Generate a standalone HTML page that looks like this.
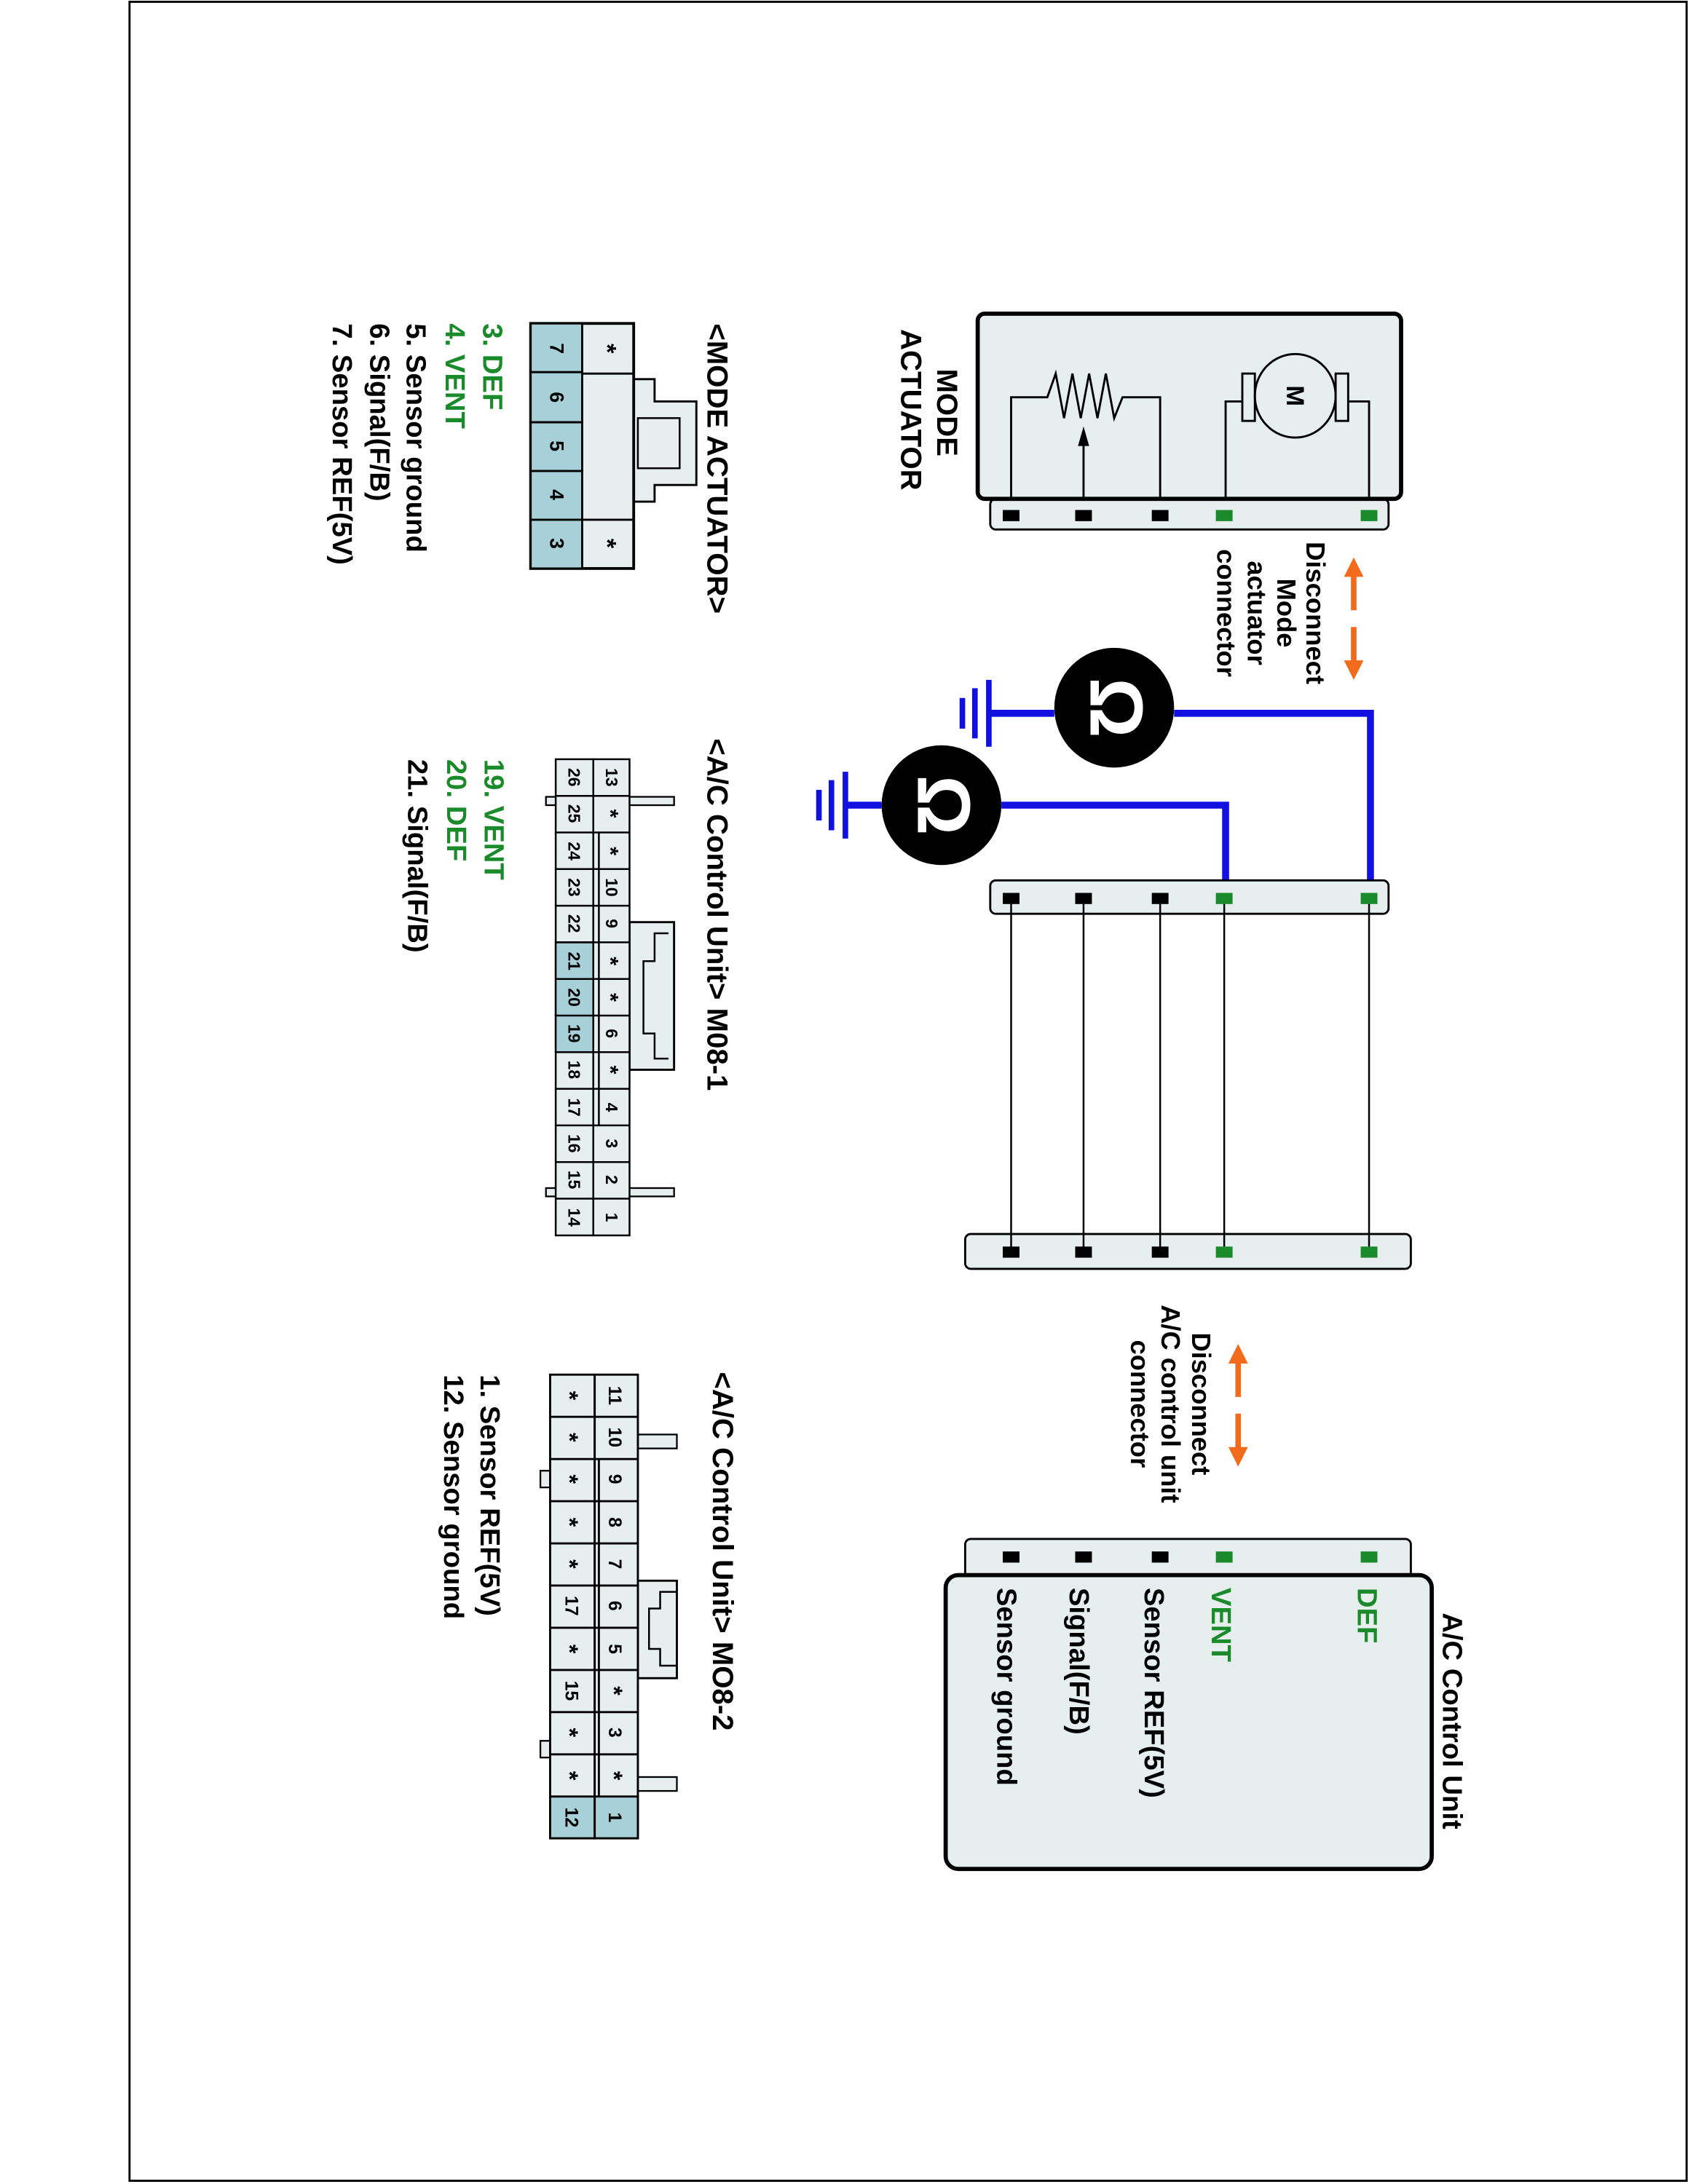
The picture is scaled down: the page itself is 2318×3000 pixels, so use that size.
<!DOCTYPE html>
<html><head><meta charset="utf-8"><style>
html,body{margin:0;padding:0;background:#fff;}
svg{display:block;}
text{font-family:"Liberation Sans",Arial,sans-serif;font-weight:bold;}
</style></head><body>
<svg width="2318" height="3000" viewBox="0 0 1212 1568" xmlns="http://www.w3.org/2000/svg">
<rect x="93" y="1" width="1118" height="1565" fill="none" stroke="#000" stroke-width="1.5"/>

<!-- MODE ACTUATOR box -->
<rect x="711" y="358" width="286" height="22" rx="4" fill="#e6eeee" stroke="#000" stroke-width="1.5"/>
<rect x="702" y="225" width="304" height="133" rx="5" fill="#e6eeee" stroke="#000" stroke-width="3"/>
<!-- motor -->
<ellipse cx="930" cy="284" rx="29" ry="30" fill="none" stroke="#000" stroke-width="1.5"/>
<rect x="892" y="268" width="9" height="34" fill="none" stroke="#000" stroke-width="1.5"/>
<rect x="959" y="268" width="9" height="34" fill="none" stroke="#000" stroke-width="1.5"/>
<polyline points="892,288 880,288 880,358" fill="none" stroke="#000" stroke-width="1.5"/>
<polyline points="968,288 983,288 983,358" fill="none" stroke="#000" stroke-width="1.5"/>
<text transform="translate(924,284) rotate(90)" text-anchor="middle" font-size="18">M</text>
<!-- resistor -->
<polyline points="726,358 726,285 752,285 758,268 764,300 770,268 776,300 782,268 788,300 794,268 800,300 806,285 833,285 833,358" fill="none" stroke="#000" stroke-width="1.5"/>
<line x1="778" y1="358" x2="778" y2="318" stroke="#000" stroke-width="1.5"/>
<polygon points="778,306 774,320 782,320" fill="#000"/>
<!-- pins -->
<g>
<rect x="720" y="366" width="12" height="8" fill="#000"/><rect x="772" y="366" width="12" height="8" fill="#000"/><rect x="827" y="366" width="12" height="8" fill="#000"/><rect x="873" y="366" width="12" height="8" fill="#1a8a2a"/><rect x="977" y="366" width="12" height="8" fill="#1a8a2a"/>
</g>
<text transform="translate(673,296) rotate(90)" text-anchor="middle" font-size="21">MODE</text>
<text transform="translate(647,294) rotate(90)" text-anchor="middle" font-size="21">ACTUATOR</text>

<!-- disconnect 1 -->
<text transform="translate(938,440) rotate(90)" text-anchor="middle" font-size="19">Disconnect</text>
<text transform="translate(917,440) rotate(90)" text-anchor="middle" font-size="19">Mode</text>
<text transform="translate(896,440) rotate(90)" text-anchor="middle" font-size="19">actuator</text>
<text transform="translate(874,440) rotate(90)" text-anchor="middle" font-size="19">connector</text>
<g stroke="#f26a1b" stroke-width="4" fill="#f26a1b">
<line x1="972" y1="412" x2="972" y2="438"/><line x1="972" y1="450" x2="972" y2="476"/>
</g>
<polygon points="972,400 965,414 979,414" fill="#f26a1b"/><polygon points="972,488 965,474 979,474" fill="#f26a1b"/>
<g stroke="#f26a1b" stroke-width="4">
<line x1="889" y1="977" x2="889" y2="1003"/><line x1="889" y1="1015" x2="889" y2="1041"/>
</g>
<polygon points="889,965 882,979 896,979" fill="#f26a1b"/><polygon points="889,1053 882,1039 896,1039" fill="#f26a1b"/>

<!-- ohm meters -->
<g stroke="#1010e0" stroke-width="5" fill="none">
<polyline points="843,512 984,512 984,645"/>
<line x1="710" y1="512" x2="757" y2="512"/>
<polyline points="719,578 880,578 880,645"/>
<line x1="607" y1="578" x2="633" y2="578"/>
</g>
<g stroke="#1010e0" stroke-width="4">
<line x1="710" y1="488" x2="710" y2="536"/><line x1="700" y1="494" x2="700" y2="530"/><line x1="691" y1="501" x2="691" y2="523"/>
<line x1="607" y1="554" x2="607" y2="602"/><line x1="597" y1="560" x2="597" y2="596"/><line x1="588" y1="567" x2="588" y2="589"/>
</g>
<circle cx="800" cy="508" r="43" fill="#000"/>
<circle cx="676" cy="578" r="43" fill="#000"/>
<text transform="translate(783,508) rotate(90)" text-anchor="middle" font-size="54" fill="#fff">Ω</text>
<text transform="translate(659,578) rotate(90)" text-anchor="middle" font-size="54" fill="#fff">Ω</text>

<!-- harness -->
<rect x="711" y="632" width="286" height="24" rx="4" fill="#e6eeee" stroke="#000" stroke-width="1.5"/>
<rect x="693" y="886" width="320" height="25" rx="4" fill="#e6eeee" stroke="#000" stroke-width="1.5"/>
<g stroke="#000" stroke-width="1.3">
<line x1="726" y1="645" x2="726" y2="899"/><line x1="778" y1="645" x2="778" y2="899"/><line x1="833" y1="645" x2="833" y2="899"/><line x1="879" y1="645" x2="879" y2="899"/><line x1="983" y1="645" x2="983" y2="899"/>
</g>
<g>
<rect x="720" y="641" width="12" height="8" fill="#000"/><rect x="772" y="641" width="12" height="8" fill="#000"/><rect x="827" y="641" width="12" height="8" fill="#000"/><rect x="873" y="641" width="12" height="8" fill="#1a8a2a"/><rect x="977" y="641" width="12" height="8" fill="#1a8a2a"/>
<rect x="720" y="895" width="12" height="8" fill="#000"/><rect x="772" y="895" width="12" height="8" fill="#000"/><rect x="827" y="895" width="12" height="8" fill="#000"/><rect x="873" y="895" width="12" height="8" fill="#1a8a2a"/><rect x="977" y="895" width="12" height="8" fill="#1a8a2a"/>
</g>

<!-- disconnect 2 -->
<text transform="translate(856,1008) rotate(90)" text-anchor="middle" font-size="19">Disconnect</text>
<text transform="translate(834,1008) rotate(90)" text-anchor="middle" font-size="19">A/C control unit</text>
<text transform="translate(812,1008) rotate(90)" text-anchor="middle" font-size="19">connector</text>

<!-- A/C control unit -->
<rect x="693" y="1105" width="320" height="28" rx="4" fill="#e6eeee" stroke="#000" stroke-width="1.5"/>
<rect x="679" y="1131" width="349" height="211" rx="9" fill="#e6eeee" stroke="#000" stroke-width="3"/>
<g>
<rect x="720" y="1114" width="12" height="8" fill="#000"/><rect x="772" y="1114" width="12" height="8" fill="#000"/><rect x="827" y="1114" width="12" height="8" fill="#000"/><rect x="873" y="1114" width="12" height="8" fill="#1a8a2a"/><rect x="977" y="1114" width="12" height="8" fill="#1a8a2a"/>
</g>
<text transform="translate(1036,1158) rotate(90)" font-size="20">A/C Control Unit</text>
<text transform="translate(975,1140) rotate(90)" font-size="20" fill="#1a8a2a">DEF</text>
<text transform="translate(870,1140) rotate(90)" font-size="20" fill="#1a8a2a">VENT</text>
<text transform="translate(822,1140) rotate(90)" font-size="20">Sensor REF(5V)</text>
<text transform="translate(768,1140) rotate(90)" font-size="20">Signal(F/B)</text>
<text transform="translate(716,1140) rotate(90)" font-size="20">Sensor ground</text>

<!-- MODE ACTUATOR connector -->
<text transform="translate(508,232) rotate(90)" font-size="21">&lt;MODE ACTUATOR&gt;</text>
<polygon points="455,272 470,272 470,288 500,288 500,348 470,348 470,360 455,360" fill="#e6eeee" stroke="#000" stroke-width="1.5"/>
<rect x="458" y="300" width="30" height="36" fill="none" stroke="#000" stroke-width="1.3"/>
<rect x="381" y="232" width="74" height="176" fill="#e6eeee" stroke="#000" stroke-width="2"/>
<g fill="#a8d0d8" stroke="#000" stroke-width="1.5">
<rect x="381" y="232" width="37" height="35"/><rect x="381" y="267" width="37" height="36"/><rect x="381" y="303" width="37" height="35"/><rect x="381" y="338" width="37" height="35"/><rect x="381" y="373" width="37" height="35"/>
</g>
<line x1="418" y1="268" x2="455" y2="268" stroke="#000" stroke-width="1.5"/>
<line x1="418" y1="373" x2="455" y2="373" stroke="#000" stroke-width="1.5"/>
<g font-size="14" text-anchor="middle">
<text transform="translate(395,250) rotate(90)">7</text><text transform="translate(395,285) rotate(90)">6</text><text transform="translate(395,320) rotate(90)">5</text><text transform="translate(395,355) rotate(90)">4</text><text transform="translate(395,390) rotate(90)">3</text>
<text transform="translate(430,250) rotate(90)" font-size="18">*</text><text transform="translate(430,390) rotate(90)" font-size="18">*</text>
</g>
<g font-size="20">
<text transform="translate(347,232) rotate(90)" fill="#1a8a2a">3. DEF</text>
<text transform="translate(320,232) rotate(90)" fill="#1a8a2a">4. VENT</text>
<text transform="translate(292,232) rotate(90)">5. Sensor ground</text>
<text transform="translate(266,232) rotate(90)">6. Signal(F/B)</text>
<text transform="translate(239,232) rotate(90)">7. Sensor REF(5V)</text>
</g>

<!-- M08-1 -->
<text transform="translate(508,530) rotate(90)" font-size="21">&lt;A/C Control Unit&gt; M08-1</text>
<rect x="392" y="572" width="92" height="6" fill="#e6eeee" stroke="#000" stroke-width="1.2"/>
<rect x="392" y="853" width="92" height="6" fill="#e6eeee" stroke="#000" stroke-width="1.2"/>
<polygon points="452,662 484,662 484,768 452,768" fill="#e6eeee" stroke="#000" stroke-width="1.5"/>
<polyline points="480,670 470,670 470,690 462,690 462,742 470,742 470,760 480,760" fill="none" stroke="#000" stroke-width="1.3"/>
<g stroke="#000" stroke-width="1.3">
<rect x="399" y="545" width="27" height="342" fill="#e6eeee"/>
<rect x="426" y="545" width="26" height="342" fill="#e6eeee"/>
<rect x="399" y="676.5" width="27" height="78.9" fill="#a8d0d8"/>
<line x1="430" y1="597" x2="430" y2="808"/>
</g>
<g stroke="#000" stroke-width="1.3">
<line x1="399" y1="571.3" x2="452" y2="571.3"/><line x1="399" y1="597.6" x2="452" y2="597.6"/><line x1="399" y1="623.9" x2="452" y2="623.9"/><line x1="399" y1="650.2" x2="452" y2="650.2"/><line x1="399" y1="676.5" x2="452" y2="676.5"/><line x1="399" y1="702.8" x2="452" y2="702.8"/><line x1="399" y1="729.1" x2="452" y2="729.1"/><line x1="399" y1="755.4" x2="452" y2="755.4"/><line x1="399" y1="781.7" x2="452" y2="781.7"/><line x1="399" y1="808" x2="452" y2="808"/><line x1="399" y1="834.3" x2="452" y2="834.3"/><line x1="399" y1="860.6" x2="452" y2="860.6"/>
</g>
<g font-size="12" text-anchor="middle">
<text transform="translate(435,558) rotate(90)">13</text><text transform="translate(433,584) rotate(90)" font-size="16">*</text><text transform="translate(433,611) rotate(90)" font-size="16">*</text><text transform="translate(435,637) rotate(90)">10</text><text transform="translate(435,663) rotate(90)">9</text><text transform="translate(433,690) rotate(90)" font-size="16">*</text><text transform="translate(433,716) rotate(90)" font-size="16">*</text><text transform="translate(435,742) rotate(90)">6</text><text transform="translate(433,768) rotate(90)" font-size="16">*</text><text transform="translate(435,795) rotate(90)">4</text><text transform="translate(435,821) rotate(90)">3</text><text transform="translate(435,847) rotate(90)">2</text><text transform="translate(435,874) rotate(90)">1</text>
<text transform="translate(408,558) rotate(90)">26</text><text transform="translate(408,584) rotate(90)">25</text><text transform="translate(408,611) rotate(90)">24</text><text transform="translate(408,637) rotate(90)">23</text><text transform="translate(408,663) rotate(90)">22</text><text transform="translate(408,690) rotate(90)">21</text><text transform="translate(408,716) rotate(90)">20</text><text transform="translate(408,742) rotate(90)">19</text><text transform="translate(408,768) rotate(90)">18</text><text transform="translate(408,795) rotate(90)">17</text><text transform="translate(408,821) rotate(90)">16</text><text transform="translate(408,847) rotate(90)">15</text><text transform="translate(408,874) rotate(90)">14</text>
</g>
<g font-size="20">
<text transform="translate(348,545) rotate(90)" fill="#1a8a2a">19. VENT</text>
<text transform="translate(321,545) rotate(90)" fill="#1a8a2a">20. DEF</text>
<text transform="translate(293,545) rotate(90)">21. Signal(F/B)</text>
</g>

<!-- MO8-2 -->
<text transform="translate(512,985) rotate(90)" font-size="21">&lt;A/C Control Unit&gt; MO8-2</text>
<rect x="458" y="1030" width="28" height="10" fill="#e6eeee" stroke="#000" stroke-width="1.2"/>
<rect x="458" y="1276" width="28" height="10" fill="#e6eeee" stroke="#000" stroke-width="1.2"/>
<rect x="388" y="1056" width="7" height="12" fill="#e6eeee" stroke="#000" stroke-width="1.2"/>
<rect x="388" y="1250" width="7" height="12" fill="#e6eeee" stroke="#000" stroke-width="1.2"/>
<rect x="458" y="1135" width="28" height="70" fill="#e6eeee" stroke="#000" stroke-width="1.5"/>
<polyline points="486,1143 474,1143 474,1155 466,1155 466,1184 474,1184 474,1196 486,1196" fill="none" stroke="#000" stroke-width="1.3"/>
<g stroke="#000" stroke-width="1.5">
<rect x="395" y="987" width="32" height="333" fill="#e6eeee"/>
<rect x="427" y="987" width="31" height="333" fill="#e6eeee"/>
<rect x="395" y="1290" width="32" height="30" fill="#a8d0d8"/>
<rect x="427" y="1290" width="31" height="30" fill="#a8d0d8"/>
<line x1="430" y1="1047" x2="430" y2="1290"/>
<line x1="395" y1="1017.3" x2="458" y2="1017.3"/><line x1="395" y1="1047.6" x2="458" y2="1047.6"/><line x1="395" y1="1077.9" x2="458" y2="1077.9"/><line x1="395" y1="1108.2" x2="458" y2="1108.2"/><line x1="395" y1="1138.5" x2="458" y2="1138.5"/><line x1="395" y1="1168.8" x2="458" y2="1168.8"/><line x1="395" y1="1199.1" x2="458" y2="1199.1"/><line x1="395" y1="1229.4" x2="458" y2="1229.4"/><line x1="395" y1="1259.7" x2="458" y2="1259.7"/>
</g>
<g font-size="13" text-anchor="middle">
<text transform="translate(437,1002) rotate(90)">11</text><text transform="translate(437,1032) rotate(90)">10</text><text transform="translate(437,1062) rotate(90)">9</text><text transform="translate(437,1093) rotate(90)">8</text><text transform="translate(437,1123) rotate(90)">7</text><text transform="translate(437,1153) rotate(90)">6</text><text transform="translate(437,1184) rotate(90)">5</text><text transform="translate(435,1214) rotate(90)" font-size="17">*</text><text transform="translate(437,1244) rotate(90)">3</text><text transform="translate(435,1275) rotate(90)" font-size="17">*</text><text transform="translate(437,1305) rotate(90)">1</text>
<text transform="translate(403,1002) rotate(90)" font-size="17">*</text><text transform="translate(403,1032) rotate(90)" font-size="17">*</text><text transform="translate(403,1062) rotate(90)" font-size="17">*</text><text transform="translate(403,1093) rotate(90)" font-size="17">*</text><text transform="translate(403,1123) rotate(90)" font-size="17">*</text><text transform="translate(406,1153) rotate(90)">17</text><text transform="translate(403,1184) rotate(90)" font-size="17">*</text><text transform="translate(406,1214) rotate(90)">15</text><text transform="translate(403,1244) rotate(90)" font-size="17">*</text><text transform="translate(403,1275) rotate(90)" font-size="17">*</text><text transform="translate(406,1305) rotate(90)">12</text>
</g>
<g font-size="20">
<text transform="translate(345,987) rotate(90)">1. Sensor REF(5V)</text>
<text transform="translate(319,987) rotate(90)">12. Sensor ground</text>
</g>
</svg>
</body></html>
